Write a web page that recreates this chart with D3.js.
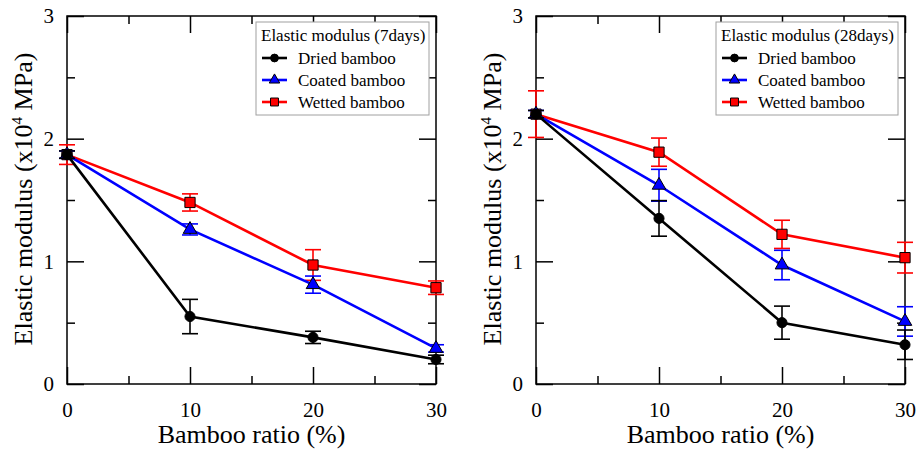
<!DOCTYPE html>
<meta charset="utf-8">
<style>
body { margin: 0; background: #fff; }
svg, .axis { font-family: "Liberation Serif", "Times New Roman", serif; }
.frame { fill: none; stroke: #000; stroke-width: 1.5px; }
.axis .domain { display: none; }
.axis line { stroke: #000; stroke-width: 1.5px; }
.axis text { font-size: 21px; fill: #000; }
.title { font-size: 26px; fill: #000; }
.legend rect { fill: #fff; stroke: #a0a0a0; stroke-width: 1px; }
.legend text { font-size: 17px; fill: #000; }
.curve { fill: none; stroke-width: 2.6px; }
.err { stroke-width: 1.6px; }
</style>
<svg width="916" height="454"></svg>
<script src="https://d3js.org/d3.v7.min.js"></script>
<script>

var ratios = [0, 10, 20, 30];
var seriesNames = ["Dried bamboo", "Coated bamboo", "Wetted bamboo"];
var seriesColors = ["#000000", "#0000ff", "#ff0000"];

// 7 days
var dried7 = [1.87, 0.55, 0.38, 0.20];
var dried7Err = [0.03, 0.14, 0.05, 0.035];
var coated7 = [1.87, 1.26, 0.81, 0.29];
var coated7Err = [0.03, 0.045, 0.07, 0.03];
var wetted7 = [1.87, 1.48, 0.97, 0.785];
var wetted7Err = [0.08, 0.07, 0.125, 0.055];

// 28 days
var dried28 = [2.20, 1.35, 0.50, 0.32];
var dried28Err = [0.03, 0.145, 0.135, 0.12];
var coated28 = [2.20, 1.62, 0.97, 0.51];
var coated28Err = [0.03, 0.13, 0.12, 0.12];
var wetted28 = [2.20, 1.89, 1.22, 1.03];
var wetted28Err = [0.19, 0.115, 0.115, 0.125];

var svg = d3.select("svg");
var top0 = 16, plotW = 369, plotH = 368;

var sym = [d3.symbolCircle, d3.symbolTriangle, d3.symbolSquare];
var symSize = [80, 80, 105];

function panel(left, legendTitle, vals, errs) {
  var x = d3.scaleLinear().domain([0, 30]).range([0, plotW]);
  var y = d3.scaleLinear().domain([0, 3]).range([plotH, 0]);

  var g = svg.append("g").attr("transform", "translate(" + left + "," + top0 + ")");

  // ticks, inward on all four sides
  g.append("g").attr("class", "axis").attr("transform", "translate(0," + plotH + ")")
    .call(d3.axisBottom(x).tickValues(ratios).tickSize(-17).tickPadding(18).tickFormat(d3.format("d")));
  g.append("g").attr("class", "axis").attr("transform", "translate(0," + plotH + ")")
    .call(d3.axisBottom(x).tickValues([5, 15, 25]).tickSize(-8).tickFormat(""));
  g.append("g").attr("class", "axis")
    .call(d3.axisTop(x).tickValues(ratios).tickSize(-17).tickFormat(""));
  g.append("g").attr("class", "axis")
    .call(d3.axisTop(x).tickValues([5, 15, 25]).tickSize(-8).tickFormat(""));
  g.append("g").attr("class", "axis")
    .call(d3.axisLeft(y).tickValues([0, 1, 2, 3]).tickSize(-17).tickPadding(13).tickFormat(d3.format("d")));
  g.append("g").attr("class", "axis")
    .call(d3.axisLeft(y).tickValues([0.5, 1.5, 2.5]).tickSize(-8).tickFormat(""));
  g.append("g").attr("class", "axis").attr("transform", "translate(" + plotW + ",0)")
    .call(d3.axisRight(y).tickValues([0, 1, 2, 3]).tickSize(-17).tickFormat(""));
  g.append("g").attr("class", "axis").attr("transform", "translate(" + plotW + ",0)")
    .call(d3.axisRight(y).tickValues([0.5, 1.5, 2.5]).tickSize(-8).tickFormat(""));

  g.append("rect").attr("class", "frame").attr("width", plotW).attr("height", plotH);

  var line = d3.line().x(function(d, i) { return x(ratios[i]); }).y(function(d) { return y(d); });

  // draw wetted first, dried on top
  [2, 1, 0].forEach(function(s) {
    var c = seriesColors[s];
    var sg = g.append("g");
    sg.append("path").attr("class", "curve").attr("stroke", c).attr("d", line(vals[s]));
    var eb = sg.selectAll(".eb").data(vals[s]).enter().append("g")
      .attr("transform", function(d, i) { return "translate(" + x(ratios[i]) + ",0)"; });
    eb.append("line").attr("class", "err").attr("stroke", c)
      .attr("y1", function(d, i) { return y(d - errs[s][i]); })
      .attr("y2", function(d, i) { return y(d + errs[s][i]); });
    eb.append("line").attr("class", "err").attr("stroke", c).attr("x1", -8).attr("x2", 8)
      .attr("y1", function(d, i) { return y(d - errs[s][i]); })
      .attr("y2", function(d, i) { return y(d - errs[s][i]); });
    eb.append("line").attr("class", "err").attr("stroke", c).attr("x1", -8).attr("x2", 8)
      .attr("y1", function(d, i) { return y(d + errs[s][i]); })
      .attr("y2", function(d, i) { return y(d + errs[s][i]); });
    sg.selectAll(".pt").data(vals[s]).enter().append("path")
      .attr("transform", function(d, i) { return "translate(" + x(ratios[i]) + "," + y(d) + ")"; })
      .attr("d", d3.symbol().type(sym[s]).size(symSize[s]))
      .attr("fill", c).attr("stroke", "#000").attr("stroke-width", 1);
  });

  // axis titles
  g.append("text").attr("class", "title").attr("x", plotW / 2).attr("y", 427)
    .attr("text-anchor", "middle").text("Bamboo ratio (%)");
  var yt = g.append("text").attr("class", "title").attr("text-anchor", "middle")
    .attr("transform", "translate(-35," + (plotH / 2 - 1) + ") rotate(-90)");
  yt.append("tspan").text("Elastic modulus (x10");
  yt.append("tspan").attr("dy", -10).attr("font-size", "15px").text("4");
  yt.append("tspan").attr("dy", 10).text(" MPa)");

  // legend
  var lw = legendTitle.length > 23 ? 182 : 173;
  var lg = g.append("g").attr("class", "legend")
    .attr("transform", "translate(" + (plotW - 7 - lw) + "," + 6 + ")");
  lg.append("rect").attr("width", lw).attr("height", 93);
  lg.append("text").attr("x", 5).attr("y", 19).text(legendTitle);
  seriesNames.forEach(function(name, s) {
    var yy = 36 + s * 22;
    lg.append("line").attr("x1", 6).attr("x2", 31).attr("y1", yy).attr("y2", yy)
      .attr("stroke", seriesColors[s]).attr("stroke-width", 2.6);
    lg.append("path").attr("transform", "translate(18.5," + yy + ")")
      .attr("d", d3.symbol().type(sym[s]).size(symSize[s] * 0.6))
      .attr("fill", seriesColors[s]).attr("stroke", "#000").attr("stroke-width", 1);
    lg.append("text").attr("x", 42).attr("y", yy + 6).text(name);
  });
}

panel(67, "Elastic modulus (7days)", [dried7, coated7, wetted7], [dried7Err, coated7Err, wetted7Err]);
panel(536, "Elastic modulus (28days)", [dried28, coated28, wetted28], [dried28Err, coated28Err, wetted28Err]);

</script>
